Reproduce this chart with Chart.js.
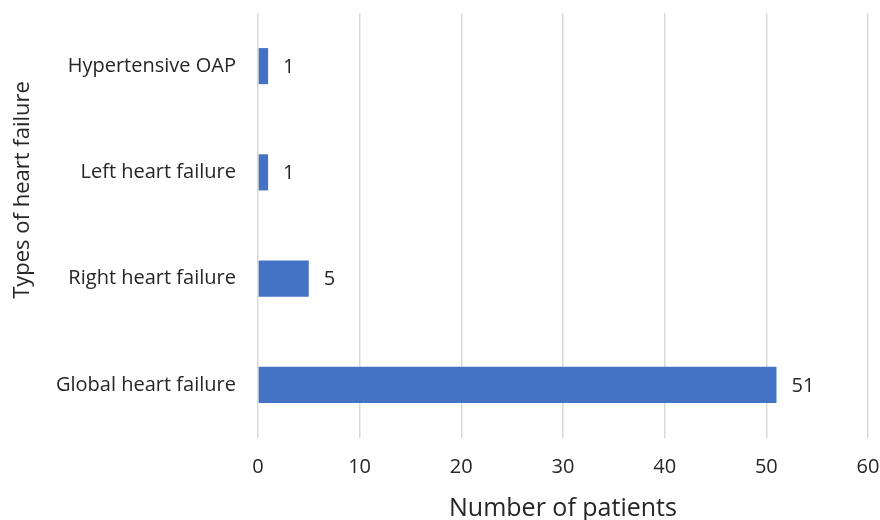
<!DOCTYPE html>
<html>
<head>
<meta charset="utf-8">
<script src="https://cdn.jsdelivr.net/npm/chart.js@4"></script>
<style>
  html, body { margin: 0; padding: 0; background: #fff; }
  #wrap { width: 880px; height: 520px; }
</style>
</head>
<body>
<div id="wrap"><canvas id="hfChart"></canvas></div>
<script>
// chart data
const categories = ['Hypertensive OAP', 'Left heart failure', 'Right heart failure', 'Global heart failure'];
const patients = [1, 1, 5, 51];
const xTicks = [0, 10, 20, 30, 40, 50, 60];
const yTitle = 'Types of heart failure';
const xTitle = 'Number of patients';

const FONT = "'Open Sans', sans-serif";
const TEXT = '#262626';

// values next to the bars + the y title (sits a bit above the axis middle, like the original)
const extras = {
    id: 'extras',
    afterDatasetsDraw(chart) {
        const ctx = chart.ctx;
        const meta = chart.getDatasetMeta(0);
        ctx.save();
        ctx.font = '20px ' + FONT;
        ctx.fillStyle = TEXT;
        ctx.textBaseline = 'middle';
        ctx.textAlign = 'left';
        meta.data.forEach(function(bar, i) {
            ctx.fillText(String(patients[i]), bar.x + 15, bar.y + 1);
        });

        ctx.translate(23, 190);
        ctx.rotate(-Math.PI / 2);
        ctx.font = '22px ' + FONT;
        ctx.textAlign = 'center';
        ctx.fillText(yTitle, 0, 0);
        ctx.restore();
    }
};

const ctx = document.getElementById('hfChart').getContext('2d');
const chart = new Chart(ctx, {
    type: 'bar',
    data: {
        labels: categories,
        datasets: [{
            data: patients,
            backgroundColor: '#4472C4',
            barPercentage: 0.68,
            categoryPercentage: 0.5
        }]
    },
    options: {
        indexAxis: 'y',
        responsive: true,
        maintainAspectRatio: false,
        animation: false,
        layout: { padding: { left: 42, right: 2, top: 13, bottom: 0 } },
        plugins: {
            legend: { display: false },
            tooltip: { enabled: false }
        },
        scales: {
            x: {
                min: 0,
                max: 60,
                afterBuildTicks(axis) {
                    axis.ticks = xTicks.map(v => ({ value: v }));
                },
                afterFit(axis) {
                    axis.paddingLeft = 0;
                    axis.paddingRight = 12;
                    axis.height = 82;
                },
                grid: { color: '#d9d9d9', lineWidth: 1.5, drawTicks: false },
                border: { display: false },
                ticks: { color: TEXT, font: { family: FONT, size: 20 }, padding: 17 },
                title: {
                    display: true,
                    text: xTitle,
                    color: TEXT,
                    font: { family: FONT, size: 25, lineHeight: 1 },
                    padding: { top: 14, bottom: -1 }
                }
            },
            y: {
                afterFit(axis) {
                    axis.paddingTop = 0;
                    axis.paddingBottom = 0;
                },
                grid: { display: false },
                border: { display: false },
                ticks: { color: TEXT, font: { family: FONT, size: 20 }, padding: 14 }
            }
        }
    },
    plugins: [extras]
});
</script>
</body>
</html>
